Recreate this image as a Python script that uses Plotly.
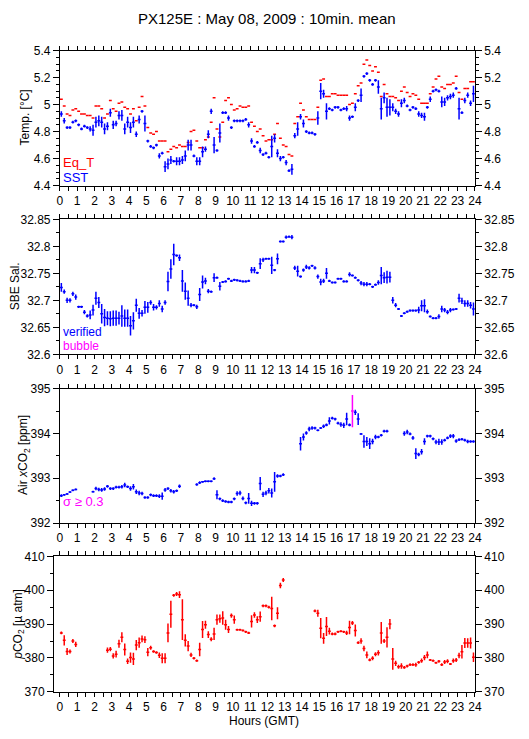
import numpy as np
import plotly.graph_objects as go

W, H = 529, 739
N = None

# 10-minute bins, 144 per day
hours = (np.arange(144) + 0.5) / 6.0

sst = [
    4.93, 4.88, 4.83, 4.83, 4.87, 4.88,  4.85, 4.82, 4.84, 4.83, 4.82, 4.81,
    4.87, 4.88, 4.87, 4.82, 4.84, 4.94,  4.85, 4.86, 4.92, 4.92, 4.82, 4.87,
    4.83, 4.87, 4.78, 4.89, 4.95, 4.86,  4.73, 4.69, 4.68, 4.70, 4.62, 4.64,
    4.54, 4.56, 4.59, 4.58, 4.58, 4.58,  4.59, 4.62, 4.70, 4.70, 4.62, 4.58,
    4.58, 4.65, 4.67, 4.78, 4.95, 4.70,  4.66, 4.79, 4.94, 4.94, 4.90, 4.83,
    4.88, 4.88, 4.88, 4.88, 4.89, 4.85,  4.73, 4.69, 4.72, 4.66, 4.63, 4.64,
    4.61, 4.69, 4.75, 4.64, 4.60, 4.61,  4.57, 4.51, 4.52, 4.77, 4.82, 4.91,
    4.86, 4.80, 4.79, 4.79, 4.78, 4.90,  5.10, 5.08, 4.95, 4.97, 4.96, 4.98,
    4.98, 4.96, 4.97, 4.97, 4.90, 4.91,  4.98, 5.03, 5.07, 5.21, 5.23, 5.18,
    5.15, 5.18, 5.13, 4.97, 5.05, 4.98,  4.98, 4.98, 4.95, 4.93, 5.01, 5.03,
    4.99, 4.96, 4.98, 4.97, 4.93, 4.92,  4.91, 4.98, 5.04, 5.10, 5.11, 5.10,
    5.02, 5.02, 5.05, 5.06, 5.07, 5.12,  4.97, 4.94, 5.03, 5.07, 5.01, 5.08,
]
sst_err = [
    0.02, 0.02, 0.01, 0.01, 0.01, 0.01,  0.01, 0.01, 0.01, 0.01, 0.02, 0.04,
    0.04, 0.04, 0.04, 0.04, 0.03, 0.03,  0.03, 0.02, 0.03, 0.04, 0.04, 0.04,
    0.04, 0.04, 0.02, 0.03, 0.01, 0.06,  0.01, 0.01, 0.01, 0.01, 0.02, 0.01,
    0.04, 0.04, 0.03, 0.01, 0.03, 0.03,  0.03, 0.04, 0.04, 0.04, 0.01, 0.03,
    0.03, 0.04, 0.02, 0.03, 0.02, 0.06,  0.01, 0.07, 0.01, 0.01, 0.02, 0.01,
    0.01, 0.01, 0.01, 0.01, 0.01, 0.02,  0.02, 0.01, 0.01, 0.02, 0.01, 0.01,
    0.01, 0.08, 0.03, 0.03, 0.02, 0.01,  0.02, 0.01, 0.04, 0.02, 0.05, 0.02,
    0.03, 0.01, 0.01, 0.01, 0.01, 0.05,  0.06, 0.03, 0.06, 0.01, 0.01, 0.01,
    0.01, 0.01, 0.01, 0.02, 0.02, 0.01,  0.03, 0.01, 0.05, 0.01, 0.01, 0.01,
    0.01, 0.01, 0.05, 0.08, 0.04, 0.07,  0.06, 0.03, 0.02, 0.02, 0.03, 0.02,
    0.01, 0.01, 0.01, 0.01, 0.02, 0.02,  0.03, 0.01, 0.02, 0.01, 0.01, 0.01,
    0.04, 0.03, 0.02, 0.02, 0.02, 0.01,  0.08, 0.01, 0.02, 0.02, 0.02, 0.06,
]
eq_t = [
    5.04, 4.99, 4.93, 4.92, 4.96, 4.97,  4.95, 4.93, 4.93, 4.92, 4.92, 4.90,
    4.99, 4.99, 4.97, 4.90, 4.93, 5.03,  4.97, 4.95, 5.01, 5.02, 4.98, 4.97,
    4.93, 4.97, 4.88, 4.98, 5.06, 4.99,  4.83, 4.79, 4.78, 4.80, 4.73, 4.73,
    4.73, 4.65, 4.67, 4.69, 4.68, 4.70,  4.69, 4.69, 4.72, 4.80, 4.81, 4.73,
    4.68, 4.68, 4.74, 4.76, 4.87, 5.05,  4.82, 4.76, 4.87, 5.03, 5.05, 5.00,
    4.96, 4.97, 4.99, 4.98, 4.98, 4.99,  4.87, 4.84, 4.80, 4.82, 4.77, 4.73,
    4.74, 4.74, 4.78, 4.86, 4.75, 4.70,  4.69, 4.63, 4.62, 4.86, 4.91, 5.01,
    4.96, 4.91, 4.89, 4.89, 4.89, 4.98,  5.18, 5.19, 5.06, 5.06, 5.08, 5.08,
    5.07, 5.07, 5.07, 5.07, 5.00, 5.01,  5.08, 5.14, 5.16, 5.30, 5.33, 5.29,
    5.25, 5.28, 5.24, 5.06, 5.15, 5.08,  5.06, 5.06, 5.05, 5.03, 5.10, 5.13,
    5.09, 5.06, 5.08, 5.07, 5.04, 5.01,  5.01, 5.01, 5.08, 5.13, 5.19, 5.21,
    5.13, 5.12, 5.15, 5.15, 5.16, 5.21,  5.09, 5.04, 5.12, 5.12, 5.17, 5.17,
]

sal = [
    32.724, 32.716, 32.700, 32.700, 32.712, 32.706,  32.688, 32.688, 32.678, 32.671, 32.673, 32.682,
    32.704, 32.696, 32.675, 32.668, 32.667, 32.666,  32.667, 32.667, 32.667, 32.671, 32.667, 32.667,
    32.653, 32.662, 32.691, 32.676, 32.676, 32.687,  32.687, 32.696, 32.687, 32.687, 32.694, 32.684,
    32.696, 32.735, 32.758, 32.785, 32.783, 32.779,  32.736, 32.717, 32.704, 32.691, 32.691, 32.688,
    32.711, 32.734, 32.736, 32.717, 32.716, 32.742,  32.742, 32.726, 32.734, 32.735, 32.740, 32.736,
    32.738, 32.737, 32.736, 32.735, 32.735, 32.736,  32.756, 32.756, 32.751, 32.768, 32.775, 32.777,
    32.777, 32.765, 32.756, 32.777, 32.809, 32.809,  32.817, 32.818, 32.817, 32.760, 32.754, 32.744,
    32.756, 32.762, 32.760, 32.764, 32.760, 32.744,  32.734, 32.736, 32.750, 32.736, 32.733, 32.733,
    32.740, 32.740, 32.735, 32.735, 32.748, 32.746,  32.742, 32.737, 32.732, 32.730, 32.730, 32.730,
    32.725, 32.729, 32.733, 32.746, 32.742, 32.743,  32.743, 32.700, 32.691, 32.684, 32.671, 32.676,
    32.679, 32.681, 32.681, 32.681, 32.682, 32.690,  32.690, 32.679, 32.670, 32.667, 32.667, 32.670,
    32.684, 32.682, 32.678, 32.682, 32.683, 32.684,  32.704, 32.699, 32.694, 32.694, 32.691, 32.684,
]
sal_err = [
    0.008, 0.004, 0.005, 0.004, 0.004, 0.005,  0.002, 0.002, 0.004, 0.003, 0.008, 0.010,
    0.012, 0.010, 0.018, 0.016, 0.013, 0.014,  0.014, 0.014, 0.012, 0.020, 0.016, 0.016,
    0.018, 0.016, 0.012, 0.010, 0.006, 0.012,  0.010, 0.004, 0.006, 0.004, 0.006, 0.006,
    0.004, 0.018, 0.018, 0.020, 0.002, 0.006,  0.020, 0.016, 0.014, 0.004, 0.002, 0.004,
    0.012, 0.012, 0.006, 0.004, 0.002, 0.008,  0.002, 0.008, 0.002, 0.002, 0.002, 0.002,
    0.002, 0.002, 0.002, 0.002, 0.002, 0.002,  0.006, 0.006, 0.002, 0.010, 0.004, 0.002,
    0.002, 0.016, 0.002, 0.010, 0.002, 0.002,  0.003, 0.002, 0.004, 0.004, 0.010, 0.002,
    0.003, 0.004, 0.003, 0.002, 0.003, 0.004,  0.006, 0.004, 0.010, 0.002, 0.002, 0.002,
    0.002, 0.002, 0.002, 0.002, 0.004, 0.002,  0.002, 0.002, 0.004, 0.004, 0.004, 0.002,
    0.002, 0.002, 0.004, 0.016, 0.010, 0.012,  0.010, 0.006, 0.004, 0.002, 0.002, 0.002,
    0.002, 0.002, 0.002, 0.002, 0.006, 0.010,  0.012, 0.004, 0.002, 0.002, 0.002, 0.004,
    0.006, 0.004, 0.004, 0.004, 0.002, 0.002,  0.008, 0.006, 0.006, 0.006, 0.006, 0.012,
]

xco2 = [
    392.61, 392.63, 392.65, 392.69, 392.73, 392.75,  N, N, N, N, N, 392.70,
    392.77, 392.75, 392.74, 392.76, 392.82, 392.77,  392.77, 392.80, 392.80, 392.81, 392.85, 392.81,
    392.77, 392.81, 392.70, 392.67, 392.66, 392.57,  392.57, 392.63, 392.61, 392.61, 392.60, 392.60,
    392.74, 392.77, 392.72, 392.70, 392.72, 392.82,  N, N, N, N, N, 392.86,
    392.90, 392.92, 392.93, 392.93, 392.93, 392.99,  392.63, 392.54, 392.50, 392.48, 392.47, 392.47,
    392.54, 392.66, 392.67, 392.55, 392.45, 392.55,  392.44, 392.44, 392.44, 392.88, 392.64, 392.67,
    392.72, 392.67, 392.92, 393.05, 393.05, 393.08,  N, N, N, N, N, 393.77,
    393.92, 394.01, 394.10, 394.12, 394.12, 394.07,  394.12, 394.16, 394.19, 394.28, 394.34, 394.32,
    394.23, 394.20, 394.18, 394.32, 394.19, 394.50,  394.47, 394.32, 393.99, 393.82, 393.82, 393.77,
    393.82, 393.92, 393.92, 393.96, 394.05, 394.05,  N, N, N, N, N, 394.00,
    394.03, 393.99, 393.90, 393.55, 393.53, 393.59,  393.82, 393.94, 393.94, 393.88, 393.81, 393.81,
    393.81, 393.85, 393.90, 393.94, 393.94, 393.83,  393.86, 393.87, 393.85, 393.82, 393.82, 393.82,
]
xco2_err = [
    0.03, 0.02, 0.02, 0.02, 0.02, 0.02,  N, N, N, N, N, 0.02,
    0.04, 0.04, 0.04, 0.04, 0.03, 0.03,  0.03, 0.03, 0.03, 0.04, 0.05, 0.03,
    0.05, 0.06, 0.05, 0.05, 0.04, 0.03,  0.03, 0.03, 0.03, 0.03, 0.04, 0.08,
    0.04, 0.03, 0.04, 0.04, 0.03, 0.04,  N, N, N, N, N, 0.03,
    0.03, 0.02, 0.02, 0.02, 0.02, 0.03,  0.10, 0.03, 0.03, 0.03, 0.03, 0.03,
    0.03, 0.05, 0.05, 0.04, 0.03, 0.12,  0.06, 0.03, 0.03, 0.15, 0.06, 0.05,
    0.06, 0.10, 0.22, 0.04, 0.03, 0.03,  N, N, N, N, N, 0.15,
    0.08, 0.04, 0.05, 0.04, 0.03, 0.02,  0.02, 0.04, 0.03, 0.08, 0.03, 0.03,
    0.03, 0.05, 0.06, 0.14, 0.03, 0.36,  0.06, 0.13, 0.02, 0.14, 0.10, 0.12,
    0.06, 0.05, 0.03, 0.03, 0.03, 0.03,  N, N, N, N, N, 0.05,
    0.05, 0.03, 0.04, 0.12, 0.04, 0.06,  0.07, 0.03, 0.03, 0.03, 0.05, 0.07,
    0.06, 0.03, 0.03, 0.04, 0.05, 0.04,  0.03, 0.03, 0.03, 0.04, 0.03, 0.03,
]

pco2 = [
    387.4, 385.2, 381.9, 381.9, 385.0, 384.0,  N, N, N, N, N, N,
    N, N, N, N, 382.3, 382.6,  380.6, 381.1, 384.2, 386.1, 382.5, 379.0,
    380.1, 379.7, 383.8, 384.5, 385.6, 385.4,  381.7, 383.0, 381.9, 381.6, 380.8, 379.9,
    379.9, 387.4, 392.9, 398.5, 398.9, 398.7,  391.3, 385.2, 383.5, 380.9, 379.9, 379.2,
    382.5, 388.4, 389.8, 386.9, 385.5, 387.1,  391.3, 391.6, 391.8, 389.8, 388.4, 392.5,
    391.3, 388.3, 388.3, 388.1, 387.7, 387.4,  390.8, 392.7, 391.3, 392.2, 395.4, 395.4,
    395.0, 394.6, 389.5, 393.2, 401.4, 403.0,  N, N, N, N, N, N,
    N, N, N, N, 393.9, 393.2,  388.8, 385.8, 389.3, 387.9, 387.1, 387.1,
    387.7, 387.9, 387.7, 387.4, 389.0, 390.3,  388.1, 384.5, 385.0, 382.8, 380.9, 379.4,
    379.9, 381.1, 381.5, 387.4, 385.0, 386.1,  390.0, 379.7, 378.4, 377.4, 377.6, 377.2,
    377.6, 378.0, 378.0, 378.0, 378.7, 379.2,  380.1, 380.9, 379.4, 379.2, 378.6, 379.0,
    378.0, 378.8, 379.0, 378.2, 379.2, 379.4,  380.7, 381.8, 384.4, 384.4, 384.4, 380.2,
]
pco2_err = [
    0.4, 1.5, 1.0, 0.6, 0.6, 0.8,  N, N, N, N, N, N,
    N, N, N, N, 0.8, 0.6,  0.8, 1.0, 1.2, 1.5, 1.8, 0.8,
    1.5, 1.8, 1.5, 1.5, 1.0, 1.0,  1.2, 0.6, 0.4, 0.4, 0.8, 1.5,
    1.5, 2.8, 4.0, 0.4, 0.6, 1.0,  6.0, 1.8, 1.5, 0.6, 0.4, 0.3,
    2.0, 2.5, 1.2, 1.0, 0.6, 1.8,  1.5, 1.2, 2.0, 1.5, 1.0, 0.6,
    1.2, 0.3, 0.3, 0.3, 0.3, 0.3,  1.8, 0.8, 1.0, 1.5, 0.4, 0.4,
    0.4, 3.5, 0.4, 1.8, 0.8, 0.6,  N, N, N, N, N, N,
    N, N, N, N, 0.4, 1.0,  3.0, 1.6, 2.8, 1.0, 0.4, 0.4,
    0.3, 0.3, 0.3, 0.6, 2.0, 0.6,  1.8, 0.4, 0.8, 0.8, 1.0, 0.4,
    0.6, 0.6, 0.8, 3.2, 0.6, 3.0,  1.5, 3.2, 0.8, 0.6, 0.8, 0.4,
    0.4, 0.4, 0.4, 0.6, 0.4, 0.6,  0.8, 1.0, 0.3, 0.3, 0.3, 0.4,
    0.4, 0.6, 0.6, 0.3, 0.6, 0.6,  0.8, 2.0, 1.5, 1.4, 1.6, 1.4,
]

hour_ticks = list(range(0, 25))
hour_labels = [str(h) for h in hour_ticks]
temp_ticks = [4.4, 4.6, 4.8, 5.0, 5.2, 5.4]
temp_labels = ["4.4", "4.6", "4.8", "5", "5.2", "5.4"]
sal_ticks = [32.6, 32.65, 32.7, 32.75, 32.8, 32.85]
sal_labels = ["32.6", "32.65", "32.7", "32.75", "32.8", "32.85"]
xco2_ticks = [392, 393, 394, 395]
pco2_ticks = [370, 380, 390, 400, 410]

BLUE, RED, MAGENTA = "#0000ff", "#ff0000", "#ff00ff"
CLEAR = "rgba(0,0,0,0)"
FONT = "Liberation Sans, Arial, sans-serif"
HALF = 1 / 12  # half of a 10-minute bin


def px_x(p):
    return p / W


def px_y(p):
    return 1 - p / H


def bars(x, y, err, color, xa, ya, show_v=True):
    ey = dict(type="data", array=err, visible=True, color=color,
              thickness=1.5, width=0) if show_v else dict(visible=False)
    return go.Scatter(
        x=x, y=y, mode="markers", xaxis=xa, yaxis=ya,
        marker=dict(size=2, color=CLEAR),
        error_x=dict(type="constant", value=HALF, color=color, thickness=1.5, width=0),
        error_y=ey, showlegend=False, hoverinfo="skip",
    )


def ghost(x, y, xa, ya):
    # invisible copy so the right-hand axis gets drawn
    return go.Scatter(x=x, y=y, mode="markers", xaxis=xa, yaxis=ya,
                      marker=dict(size=2, color=CLEAR), showlegend=False, hoverinfo="skip")


fig = go.Figure()
fig.add_trace(bars(hours, eq_t, None, RED, "x", "y", show_v=False))
fig.add_trace(bars(hours, sst, sst_err, BLUE, "x", "y"))
fig.add_trace(bars(hours, sal, sal_err, BLUE, "x2", "y2"))

# flag points with sigma >= 0.3 in magenta
ok = [i for i, e in enumerate(xco2_err) if e is not None and e < 0.3]
hi = [i for i, e in enumerate(xco2_err) if e is not None and e >= 0.3]
fig.add_trace(bars(hours[ok], [xco2[i] for i in ok], [xco2_err[i] for i in ok], BLUE, "x3", "y3"))
fig.add_trace(bars(hours[hi], [xco2[i] for i in hi], [xco2_err[i] for i in hi], MAGENTA, "x3", "y3"))
fig.add_trace(bars(hours, pco2, pco2_err, RED, "x4", "y4"))

fig.add_trace(ghost(hours, sst, "x", "y5"))
fig.add_trace(ghost(hours, sal, "x2", "y6"))
fig.add_trace(ghost(hours, xco2, "x3", "y7"))
fig.add_trace(ghost(hours, pco2, "x4", "y8"))

# panel frames in pixels: (left, top, bottom)
panels = [(58, 44.5, 182), (58, 216.5, 354), (58, 389, 526), (52, 560, 698)]
RIGHT = 481
yspec = [
    ([4.4, 5.4], temp_ticks, temp_labels, 0.05),
    ([32.6, 32.85], sal_ticks, sal_labels, 0.025),
    ([392, 395], xco2_ticks, [str(v) for v in xco2_ticks], 0.5),
    ([370, 410], pco2_ticks, [str(v) for v in pco2_ticks], 5),
]

layout = dict(
    width=W, height=H, autosize=False,
    margin=dict(l=0, r=0, t=0, b=0),
    paper_bgcolor="white", plot_bgcolor="white",
    font=dict(family=FONT, size=12, color="black"),
    showlegend=False,
)
for k, ((left, top, bot), (rng, tv, tt, mn)) in enumerate(zip(panels, yspec), start=1):
    sx = "" if k == 1 else str(k)
    xr = [0, 24] if left == 58 else [-(58 - left) * 24 / (RIGHT - 58), 24]
    dom_y = [px_y(bot), px_y(top)]
    layout["xaxis" + sx] = dict(
        domain=[px_x(left), px_x(RIGHT)], range=xr, anchor="y" + sx,
        tickvals=hour_ticks, ticktext=hour_labels,
        ticks="outside", ticklen=4, tickcolor="black", mirror="ticks",
        showline=True, linecolor="black", linewidth=1,
        minor=dict(dtick=0.5, tick0=0, ticks="outside", ticklen=4, tickcolor="black"),
        showgrid=False, zeroline=False, tickfont=dict(size=12),
    )
    common = dict(
        range=rng, domain=dom_y, tickvals=tv, ticktext=tt,
        ticks="outside", ticklen=6, tickcolor="black",
        minor=dict(dtick=mn, tick0=rng[0], ticks="outside", ticklen=3, tickcolor="black"),
        showgrid=False, zeroline=False, tickfont=dict(size=12),
    )
    layout["yaxis" + sx] = dict(common, anchor="x" + sx, showline=True,
                                linecolor="black", linewidth=1, mirror=True)
    layout["yaxis" + str(k + 4)] = dict(common, anchor="x" + sx, overlaying="y" + sx,
                                        side="right", showline=False)

fig.update_layout(**layout)

anns = [
    ("PX125E : May 08, 2009 : 10min. mean", 269, 12, 15, "black", 0, "center"),
    ("Temp. [°C]", 22, 113, 12, "black", -90, "center"),
    ("SBE Sal.", 12, 285, 12, "black", -90, "center"),
    ("Air <i>x</i>CO<sub>2</sub> [ppm]", 22, 457, 12, "black", -90, "center"),
    ("<i>p</i>CO<sub>2</sub> [µ atm]", 16, 629, 12, "black", -90, "center"),
    ("Hours (GMT)", 266, 728, 12, "black", 0, "center"),
    ("Eq_T", 60, 158, 13, RED, 0, "left"),
    ("SST", 60, 174, 13, BLUE, 0, "left"),
    ("verified", 60, 331, 12, BLUE, 0, "left"),
    ("bubble", 60, 346, 12, MAGENTA, 0, "left"),
    ("σ ≥ 0.3", 60, 504, 13, MAGENTA, 0, "left"),
]
for text, x, y, size, color, angle, anchor in anns:
    fig.add_annotation(
        text=text, xref="paper", yref="paper", x=px_x(x), y=px_y(y),
        xanchor=anchor, yanchor="middle", showarrow=False, textangle=angle,
        borderpad=0, font=dict(size=size, color=color, family=FONT),
    )

fig.write_html("out.html", config={"displayModeBar": False},
               post_script="document.body.style.margin='0';")
